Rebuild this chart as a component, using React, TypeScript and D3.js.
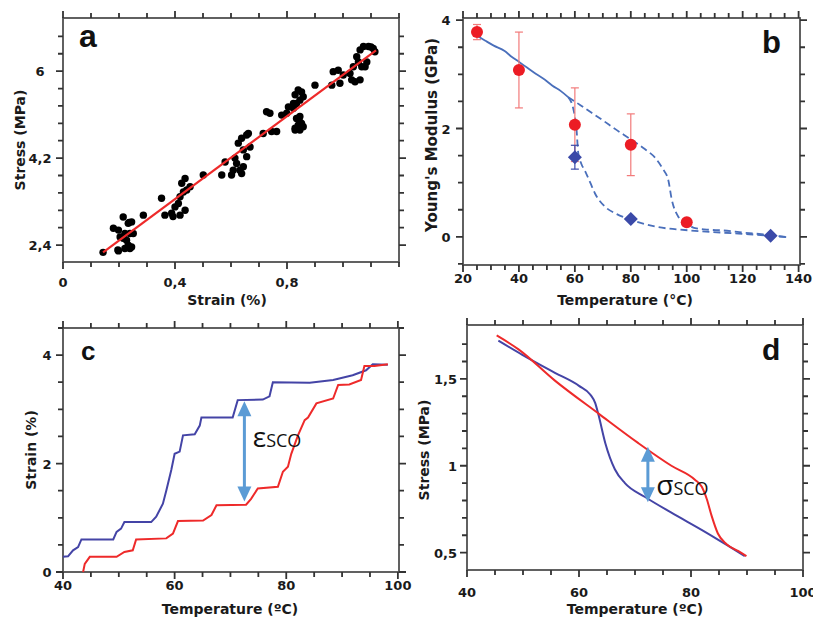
import React from 'react';
import * as d3 from 'd3';

// ---- panel a : stress vs strain scatter ----
const scatterStrain = [
  0.143, 0.196, 0.18, 0.198, 0.215, 0.233, 0.245, 0.221, 0.239, 0.251, 0.215, 0.227, 0.233, 0.245, 0.221, 0.204, 0.239, 0.198, 0.236,
  0.287, 0.352, 0.364, 0.388, 0.4, 0.412, 0.418, 0.424, 0.436, 0.442, 0.454, 0.436, 0.418, 0.393, 0.43, 0.501,
  0.567, 0.602, 0.579, 0.62, 0.632, 0.644, 0.656, 0.644, 0.626, 0.638, 0.656, 0.662, 0.614, 0.608, 0.638, 0.668,
  0.715, 0.739, 0.727, 0.745, 0.763,
  0.781, 0.799, 0.805, 0.823, 0.834, 0.829, 0.84, 0.852, 0.846, 0.846, 0.84, 0.852, 0.829, 0.846, 0.858, 0.823, 0.834, 0.846, 0.829, 0.858, 0.9,
  0.96, 0.965, 0.983, 0.989, 1.001, 1.025, 1.031, 1.043, 1.061, 1.067, 1.055, 1.049, 1.061, 1.073, 1.091, 1.108, 1.114, 1.085, 1.079, 1.037, 1.1,
];
const scatterStress = [
  2.25, 2.3, 2.75, 2.71, 2.98, 2.85, 2.88, 2.64, 2.64, 2.64, 2.54, 2.5, 2.4, 2.36, 2.33, 2.57, 2.33, 2.28, 2.87,
  3.02, 3.37, 3.02, 3.06, 3.19, 3.26, 3.4, 3.68, 3.78, 3.54, 3.61, 3.12, 3.02, 2.99, 3.5, 3.85,
  3.85, 3.85, 4.12, 4.09, 3.95, 4.02, 4.23, 4.37, 4.51, 4.61, 4.68, 4.71, 4.2, 3.95, 3.88, 4.43,
  4.71, 5.13, 5.16, 4.75, 4.75,
  5.09, 5.13, 5.26, 5.23, 5.33, 4.78, 4.88, 4.92, 5.06, 4.78, 5.61, 5.57, 5.51, 5.4, 5.47, 5.33, 5.02, 4.95, 4.82, 4.85, 5.71,
  5.71, 5.99, 6.02, 5.75, 5.92, 5.95, 5.82, 5.78, 5.82, 6.09, 6.19, 6.3, 6.44, 6.51, 6.51, 6.47, 6.4, 6.19, 6.09, 6.09, 6.5,
];
const fitStrain = [0.143, 1.118];
const fitStress = [2.25, 6.43];

// ---- panel b : Young's modulus vs temperature ----
const ymTempRed = [25, 40, 60, 80, 100];
const ymRed = [3.78, 3.08, 2.07, 1.7, 0.27];
const ymRedErr = [0.14, 0.7, 0.68, 0.57, 0];
const ymTempBlue = [60, 80, 130];
const ymBlue = [1.47, 0.33, 0.02];
const ymBlueErr = [0.22, 0, 0];
const solidTemp = [24.8, 28, 31, 34.9, 37, 40.3, 43, 46, 49.3, 52, 55, 57.6];
const solidYm = [3.72, 3.62, 3.53, 3.43, 3.34, 3.22, 3.12, 3.01, 2.9, 2.79, 2.69, 2.58];
const upperTemp = [57.6, 62, 66, 70, 75, 80.3, 85, 88.7, 91.5, 93.4, 94.6, 97, 100, 103, 108, 112.5, 120, 130.4, 136.4];
const upperYm = [2.58, 2.43, 2.29, 2.15, 1.97, 1.79, 1.62, 1.46, 1.25, 1.05, 0.7, 0.37, 0.24, 0.16, 0.13, 0.12, 0.08, 0.03, -0.01];
const lowerTemp = [57.6, 59.5, 60.6, 61.2, 62.3, 63.6, 65.5, 67.2, 70.7, 75, 80.3, 88.7, 100.6, 118.5, 130, 136.4];
const lowerYm = [2.58, 2.35, 1.98, 1.55, 1.35, 1.22, 1.0, 0.8, 0.56, 0.42, 0.31, 0.19, 0.12, 0.06, 0.02, -0.01];

// ---- panel c : strain vs temperature ----
const cBlueT = [40, 40.9, 41.8, 42.7, 43.3, 49, 49.6, 50.4, 51, 55.8, 56.7, 57.9, 58.5, 59.4, 60, 60.9, 61.5, 63.6, 64.5, 64.8, 70.4, 71.3, 75.8, 77, 77.6, 84.2, 88.4, 91.9, 94.3, 95.5, 98.2];
const cBlueS = [0.28, 0.29, 0.4, 0.46, 0.6, 0.6, 0.74, 0.8, 0.92, 0.92, 1.02, 1.26, 1.5, 1.88, 2.18, 2.22, 2.52, 2.54, 2.7, 2.85, 2.85, 3.17, 3.18, 3.24, 3.5, 3.49, 3.54, 3.63, 3.72, 3.83, 3.82];
const cRedT = [43.6, 43.9, 44.8, 49.6, 51, 52.5, 53.1, 58.5, 59.7, 60.6, 65.1, 66.6, 67.5, 72.8, 73.7, 74.9, 78.5, 79.4, 80.3, 80.9, 82.1, 83.3, 83.9, 85.4, 88.4, 89.3, 91.3, 93.4, 94, 95.8, 98.2];
const cRedS = [0, 0.15, 0.28, 0.28, 0.37, 0.4, 0.6, 0.62, 0.71, 0.94, 0.95, 1.05, 1.23, 1.24, 1.35, 1.54, 1.57, 1.85, 1.94, 2.18, 2.52, 2.8, 2.85, 3.11, 3.2, 3.45, 3.46, 3.54, 3.8, 3.8, 3.83];
const cArrow = [72.5, 3.15, 1.3];

// ---- panel d : stress vs temperature ----
const dRedT = [45.3, 49.2, 55.7, 63.5, 70.6, 76.5, 80.7, 81.9, 82.8, 83.7, 84.8, 86.3, 88.4, 89.9];
const dRedS = [1.75, 1.67, 1.49, 1.3, 1.13, 1.0, 0.92, 0.88, 0.81, 0.71, 0.61, 0.55, 0.51, 0.48];
const dBlueT = [45.6, 49.8, 55.7, 60, 62, 62.9, 63.5, 64.7, 66.4, 68.2, 71.8, 76.5, 82.5, 86.6, 89.6];
const dBlueS = [1.72, 1.64, 1.535, 1.46, 1.41, 1.36, 1.29, 1.13, 0.98, 0.9, 0.82, 0.73, 0.62, 0.54, 0.48];
const dArrow = [72.3, 1.11, 0.79];

const FONT = '"DejaVu Sans", Verdana, sans-serif';
const FRAME = '#505050';
const TICK = '#333333';
const RED = '#ee2a2a';
const NAVY = '#4444a6';
const ARROW = '#5b9bd5';

const range = (a: number, b: number, s: number) => d3.range(0, Math.round((b - a) / s) + 1).map(i => +(a + i * s).toFixed(4));

function Axes({ x, y, xMajor, xMinor, yMajor, yMinor, xFmt, yFmt, xTickY, yTickX, yAnchor }: any) {
  const [x0, x1] = x.range();
  const [y0, y1] = y.range();
  // all tick marks in one path, pointing outwards on every side
  let d = '';
  const addX = (v: number, len: number) => {
    const px = x(v);
    d += `M${px},${y0}V${y0 + len}M${px},${y1}V${y1 - len}`;
  };
  const addY = (v: number, len: number) => {
    const py = y(v);
    d += `M${x0},${py}H${x0 - len}M${x1},${py}H${x1 + len}`;
  };
  xMinor.forEach((v: number) => addX(v, 5));
  xMajor.forEach((v: number) => addX(v, 7));
  yMinor.forEach((v: number) => addY(v, 5));
  yMajor.forEach((v: number) => addY(v, 7));
  return (
    <g>
      <rect x={x0} y={y1} width={x1 - x0} height={y0 - y1} fill="none" stroke={FRAME} strokeWidth={1.8} />
      <path d={d} fill="none" stroke={TICK} strokeWidth={1.8} />
      <g fontFamily={FONT} fontWeight="bold" fontSize={13} fill="#1a1a1a">
        {xMajor.map((v: number, i: number) => (
          <text key={i} x={x(v)} y={xTickY} textAnchor="middle">{xFmt(v)}</text>
        ))}
        {yMajor.map((v: number, i: number) => (
          <text key={i} x={yTickX} y={y(v) + 5} textAnchor={yAnchor}>{yFmt(v)}</text>
        ))}
      </g>
    </g>
  );
}

function Title({ x, y, text, rotate, size = 14 }: any) {
  return (
    <text x={x} y={y} fontFamily={FONT} fontWeight="bold" fontSize={size} fill="#1a1a1a" textAnchor="middle"
      transform={rotate ? `rotate(-90,${x},${y})` : undefined}>{text}</text>
  );
}

function Letter({ x, y, text, size }: any) {
  return <text x={x} y={y} fontFamily='"Liberation Sans", Arial, sans-serif' fontWeight="bold" fontSize={size} fill="#111">{text}</text>;
}

function DoubleArrow({ x, yTop, yBot }: { x: number; yTop: number; yBot: number }) {
  const hl = 15, hw = 7;
  return (
    <g fill={ARROW} stroke="none">
      <line x1={x} x2={x} y1={yTop + hl - 1} y2={yBot - hl + 1} stroke={ARROW} strokeWidth={3} />
      <polygon points={`${x},${yTop} ${x - hw},${yTop + hl} ${x + hw},${yTop + hl}`} />
      <polygon points={`${x},${yBot} ${x - hw},${yBot - hl} ${x + hw},${yBot - hl}`} />
    </g>
  );
}

const comma = (v: number) => String(v).replace('.', ',');

function PanelA() {
  const x = d3.scaleLinear().domain([0, 1.2]).range([63, 399]);
  const y = d3.scaleLinear().domain([2.05, 7.1]).range([262, 18]);
  const line = d3.line<number>().x((_, i) => x(fitStrain[i])).y((d) => y(d));
  return (
    <g>
      <Axes x={x} y={y} xMajor={[0, 0.4, 0.8]} xMinor={range(0, 1.2, 0.1)} yMajor={[2.4, 4.2, 6]}
        yMinor={range(2.4, 6.72, 0.36)} xFmt={comma} yFmt={comma} xTickY={287} yTickX={40} yAnchor="middle" />
      {scatterStrain.map((s, i) => (
        <circle key={i} cx={x(s)} cy={y(scatterStress[i])} r={3.7} fill="#000" />
      ))}
      <path d={line(fitStress) || ''} stroke={RED} strokeWidth={2.2} fill="none" />
      <Letter x={79} y={47} text="a" size={32} />
      <Title x={227} y={305} text="Strain (%)" />
      <Title x={25} y={140} text="Stress (MPa)" rotate />
    </g>
  );
}

function PanelB() {
  const x = d3.scaleLinear().domain([20, 140.5]).range([463, 800]);
  const y = d3.scaleLinear().domain([-0.52, 4.04]).range([265, 18]);
  const mk = (ts: number[]) => d3.line<number>().x((_, i) => x(ts[i])).y((d) => y(d)).curve(d3.curveMonotoneX);
  const BL = '#4a6fbb';
  const diamond = (cx: number, cy: number) => `${cx},${cy - 7} ${cx + 7},${cy} ${cx},${cy + 7} ${cx - 7},${cy}`;
  return (
    <g>
      <Axes x={x} y={y} xMajor={range(20, 140, 20)} xMinor={range(20, 140, 5)} yMajor={[0, 2, 4]}
        yMinor={range(-0.5, 4, 0.5)} xFmt={String} yFmt={String} xTickY={283} yTickX={446} yAnchor="middle" />
      <path d={mk(solidTemp)(solidYm) || ''} stroke={BL} strokeWidth={1.8} fill="none" />
      <path d={mk(upperTemp)(upperYm) || ''} stroke={BL} strokeWidth={1.8} fill="none" strokeDasharray="7,4" />
      <path d={mk(lowerTemp)(lowerYm) || ''} stroke={BL} strokeWidth={1.8} fill="none" strokeDasharray="7,4" />
      {ymTempRed.map((t, i) => ymRedErr[i] > 0 && (
        <g key={'re' + i} stroke="#f27a7a" strokeWidth={1.2}>
          <line x1={x(t)} x2={x(t)} y1={y(ymRed[i] - ymRedErr[i])} y2={y(ymRed[i] + ymRedErr[i])} />
          <line x1={x(t) - 4} x2={x(t) + 4} y1={y(ymRed[i] - ymRedErr[i])} y2={y(ymRed[i] - ymRedErr[i])} />
          <line x1={x(t) - 4} x2={x(t) + 4} y1={y(ymRed[i] + ymRedErr[i])} y2={y(ymRed[i] + ymRedErr[i])} />
        </g>
      ))}
      {ymTempBlue.map((t, i) => ymBlueErr[i] > 0 && (
        <g key={'be' + i} stroke="#3b4aa8" strokeWidth={1.2}>
          <line x1={x(t)} x2={x(t)} y1={y(ymBlue[i] - ymBlueErr[i])} y2={y(ymBlue[i] + ymBlueErr[i])} />
          <line x1={x(t) - 4} x2={x(t) + 4} y1={y(ymBlue[i] - ymBlueErr[i])} y2={y(ymBlue[i] - ymBlueErr[i])} />
          <line x1={x(t) - 4} x2={x(t) + 4} y1={y(ymBlue[i] + ymBlueErr[i])} y2={y(ymBlue[i] + ymBlueErr[i])} />
        </g>
      ))}
      {ymTempRed.map((t, i) => <circle key={'r' + i} cx={x(t)} cy={y(ymRed[i])} r={6} fill="#ec1c24" />)}
      {ymTempBlue.map((t, i) => <polygon key={'b' + i} points={diamond(x(t), y(ymBlue[i]))} fill="#3b4aa8" />)}
      <Letter x={762} y={53} text="b" size={31} />
      <Title x={625} y={305} text="Temperature (°C)" />
      <Title x={437} y={135} text="Young's Modulus (GPa)" rotate size={15} />
    </g>
  );
}

function PanelC() {
  const x = d3.scaleLinear().domain([40, 100.2]).range([63, 399]);
  const y = d3.scaleLinear().domain([0, 4.5]).range([572, 328]);
  const mk = (ts: number[]) => d3.line<number>().x((_, i) => x(ts[i])).y((d) => y(d));
  return (
    <g>
      <Axes x={x} y={y} xMajor={[40, 60, 80, 100]} xMinor={range(40, 100, 5)} yMajor={[0, 2, 4]}
        yMinor={range(0, 4.5, 0.5)} xFmt={String} yFmt={String} xTickY={590} yTickX={47} yAnchor="middle" />
      <path d={mk(cBlueT)(cBlueS) || ''} stroke={NAVY} strokeWidth={2} fill="none" />
      <path d={mk(cRedT)(cRedS) || ''} stroke={RED} strokeWidth={2} fill="none" />
      <DoubleArrow x={x(cArrow[0])} yTop={y(cArrow[1])} yBot={y(cArrow[2])} />
      <text x={x(74)} y={y(2.3)} fontFamily='"Open Sans", sans-serif' fill="#111">
        <tspan fontSize={28}>ε</tspan><tspan fontSize={18}>SCO</tspan>
      </text>
      <Letter x={81} y={360} text="c" size={26} />
      <Title x={230} y={614} text="Temperature (ºC)" />
      <Title x={36} y={450} text="Strain (%)" rotate />
    </g>
  );
}

function PanelD() {
  const x = d3.scaleLinear().domain([40, 100]).range([467, 803]);
  const y = d3.scaleLinear().domain([0.4, 1.81]).range([570, 325]);
  const mk = (ts: number[]) => d3.line<number>().x((_, i) => x(ts[i])).y((d) => y(d)).curve(d3.curveMonotoneX);
  return (
    <g>
      <Axes x={x} y={y} xMajor={[40, 60, 80, 100]} xMinor={range(40, 100, 5)} yMajor={[0.5, 1, 1.5]}
        yMinor={range(0.5, 1.7, 0.1)} xFmt={String} yFmt={comma} xTickY={597} yTickX={457} yAnchor="end" />
      <path d={mk(dBlueT)(dBlueS) || ''} stroke={NAVY} strokeWidth={2} fill="none" />
      <path d={mk(dRedT)(dRedS) || ''} stroke={RED} strokeWidth={2} fill="none" />
      <DoubleArrow x={x(dArrow[0])} yTop={y(dArrow[1])} yBot={y(dArrow[2])} />
      <text x={x(73.8)} y={y(0.83)} fontFamily='"Open Sans", sans-serif' fill="#111">
        <tspan fontSize={28}>σ</tspan><tspan fontSize={18}>SCO</tspan>
      </text>
      <Letter x={762} y={360} text="d" size={30} />
      <Title x={635} y={614} text="Temperature (ºC)" />
      <Title x={429} y={450} text="Stress (MPa)" rotate />
    </g>
  );
}

export default function App() {
  return (
    <svg width={813} height={620} viewBox="0 0 813 620" style={{ position: 'absolute', left: 0, top: 0, background: '#fff' }}>
      <rect width={813} height={620} fill="#fff" />
      <PanelA />
      <PanelB />
      <PanelC />
      <PanelD />
    </svg>
  );
}
